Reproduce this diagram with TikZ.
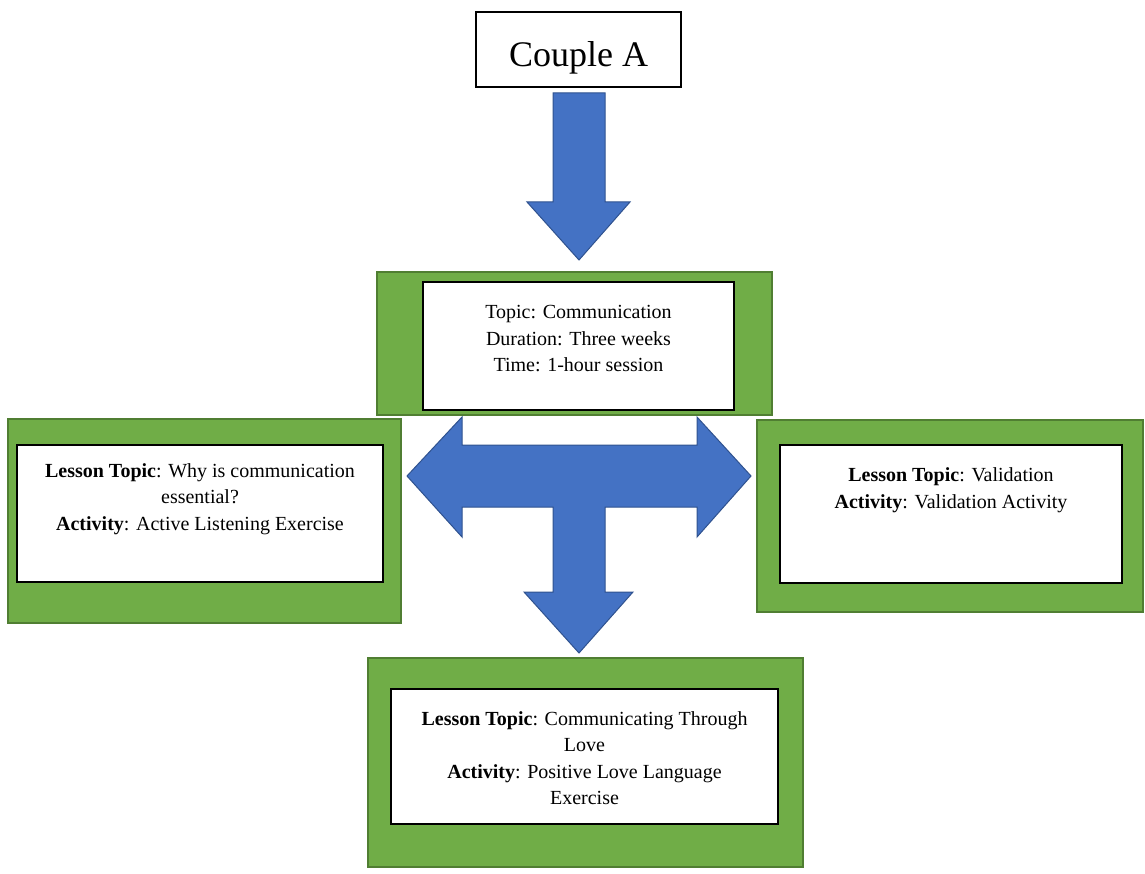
\documentclass[tikz,border=0pt]{standalone}
\usepackage{fontspec}
\setmainfont{Liberation Serif}
\definecolor{boxgreen}{HTML}{70AD47}
\definecolor{boxgreenline}{HTML}{507E32}
\definecolor{arrowblue}{HTML}{4472C4}
\definecolor{arrowblueline}{HTML}{2F528F}
\begin{document}
\begin{tikzpicture}[x=1pt,y=-1pt]
\tikzstyle{greenbox}=[draw=boxgreenline, fill=boxgreen, line width=2pt, inner sep=0pt]
\tikzstyle{whitebox}=[draw=black, fill=white, line width=2pt, inner sep=0pt]
\tikzstyle{lesson}=[align=center, inner sep=0pt, font=\fontsize{20}{26.5}\selectfont]
\tikzstyle{blockarrow}=[fill=arrowblue, draw=arrowblueline, line width=1pt, line join=miter]
\useasboundingbox (0,0) rectangle (1145,874);
% couple box
\node [whitebox, minimum width=205, minimum height=75] (couple) at (578.5,49.5) {};
\node [inner sep=0pt, font=\fontsize{36}{40}\selectfont] (coupletxt) at (578.5,58) {Couple A};
% arrow down to topic
\draw [blockarrow] (553,93) -- (605,93) -- (605,202) -- (630,202) -- (579,260) -- (527,202) -- (553,202) -- cycle;
% topic box
\node [greenbox, minimum width=395, minimum height=143] (topicgreen) at (574.5,343.5) {};
\node [whitebox, minimum width=311, minimum height=128] (topic) at (578.5,346) {};
\node [lesson] (topictxt) at (578.5,339) {Topic: Communication\\Duration: Three weeks\\Time: 1-hour session};
% three-way arrow
\draw [blockarrow] (407,476) -- (462,417) -- (462,445) -- (697,445) -- (697,417) -- (751,476)
  -- (697,537) -- (697,507) -- (605,507) -- (605,592) -- (633,592) -- (579,653) -- (524,592)
  -- (553,592) -- (553,507) -- (462,507) -- (462,537) -- cycle;
% lesson one
\node [greenbox, minimum width=393, minimum height=204] (leftgreen) at (204.5,521) {};
\node [whitebox, minimum width=366, minimum height=137] (left) at (200,513.5) {};
\node [lesson] (lefttxt) at (200,499) {\textbf{Lesson Topic}: Why is communication\\essential?\\\textbf{Activity}: Active Listening Exercise};
% lesson two
\node [greenbox, minimum width=386, minimum height=192] (rightgreen) at (950,516) {};
\node [whitebox, minimum width=342, minimum height=138] (right) at (951,514) {};
\node [lesson] (righttxt) at (951,490) {\textbf{Lesson Topic}: Validation\\\textbf{Activity}: Validation Activity};
% lesson three
\node [greenbox, minimum width=435, minimum height=209] (bottomgreen) at (585.5,762.5) {};
\node [whitebox, minimum width=387, minimum height=135] (bottom) at (584.5,756.5) {};
\node [lesson] (bottomtxt) at (584.5,758) {\textbf{Lesson Topic}: Communicating Through\\Love\\\textbf{Activity}: Positive Love Language\\Exercise};
\end{tikzpicture}
\end{document}
